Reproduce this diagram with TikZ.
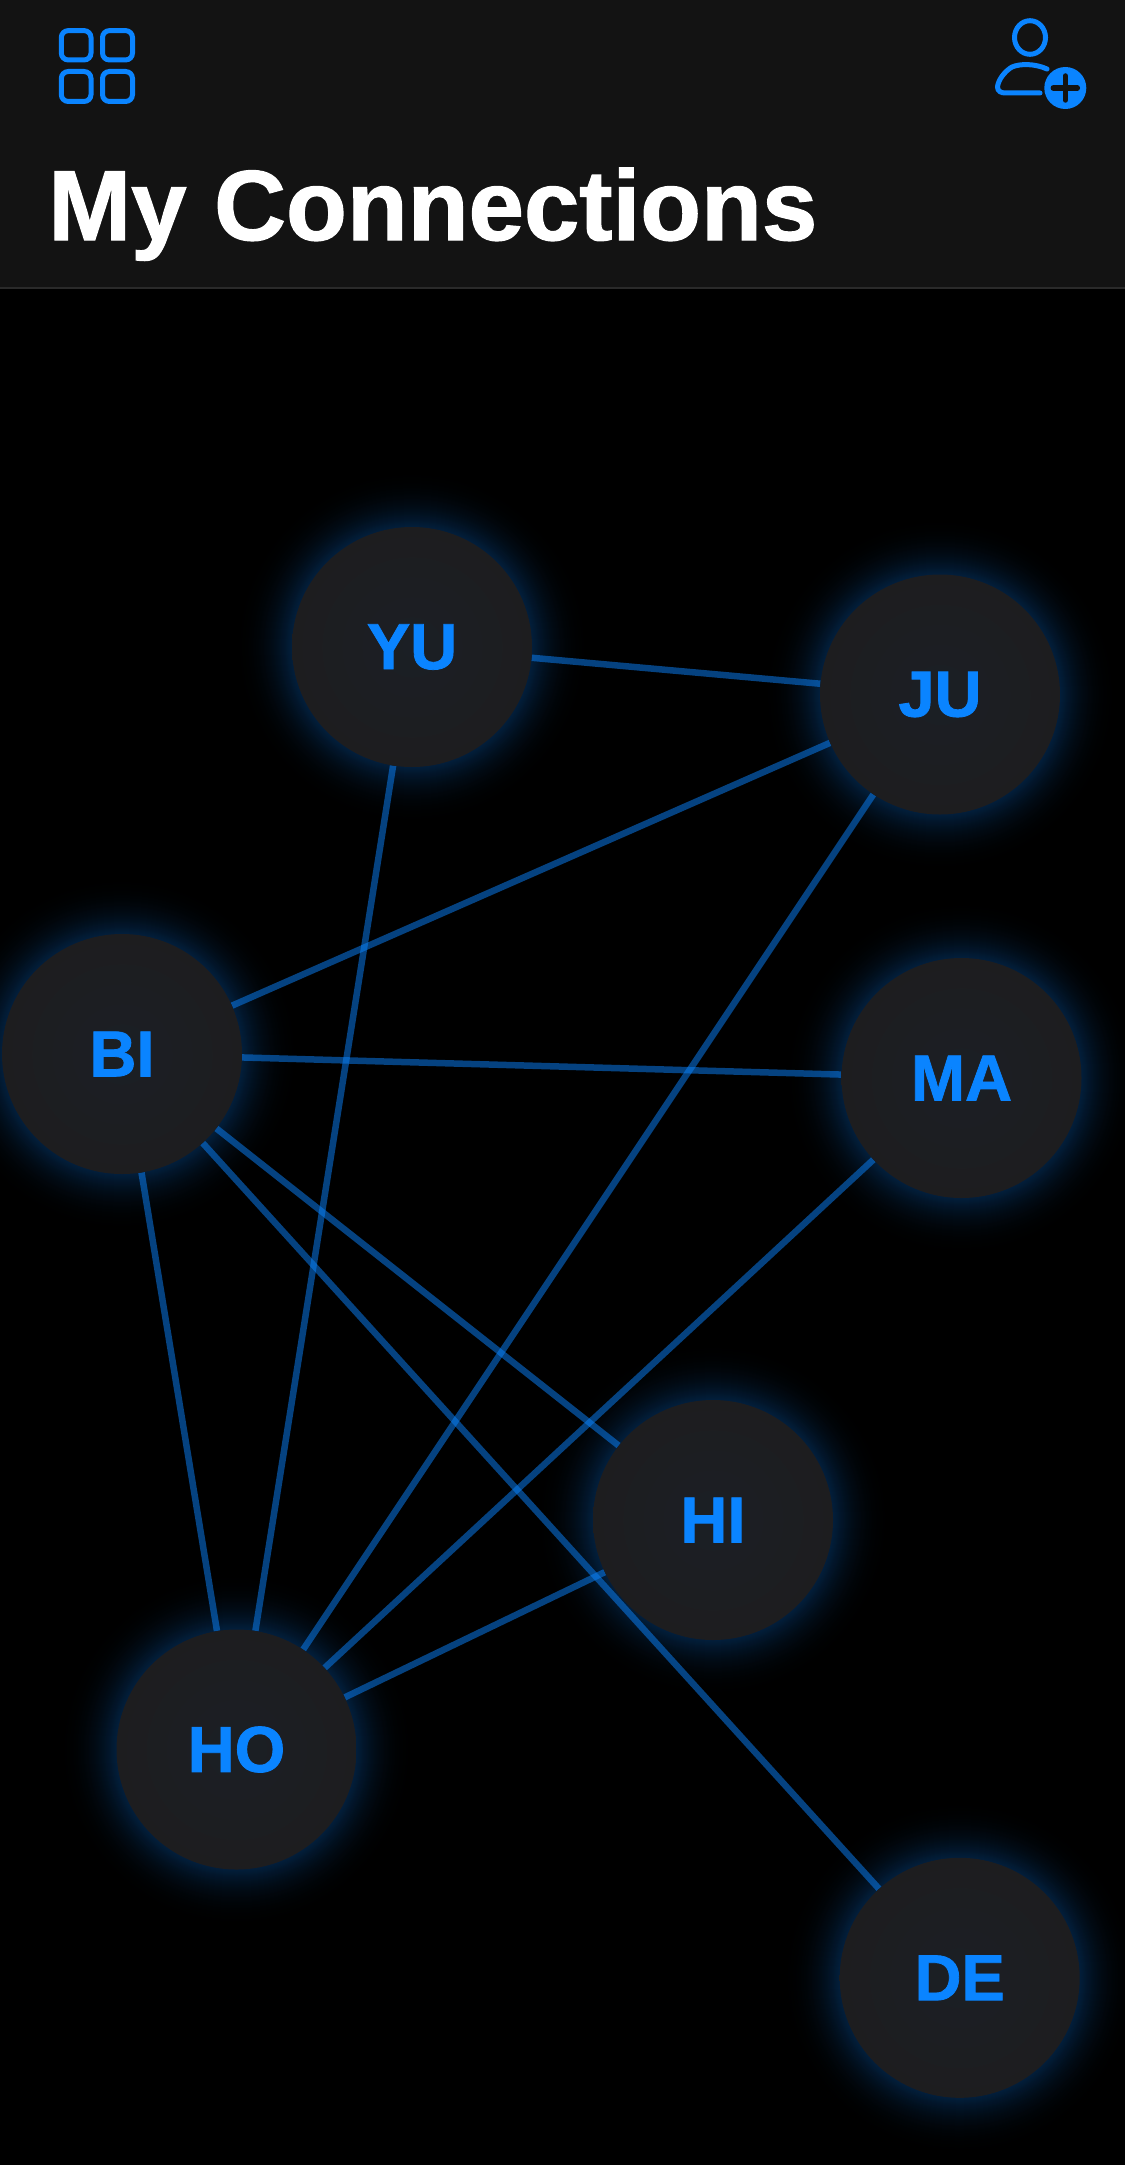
\documentclass[tikz,border=0pt]{standalone}
\usepackage{fontspec}
\setmainfont{Liberation Sans}[BoldFeatures={FakeBold=1.2}]
\pgfdeclarelayer{glowlayer}
\pgfdeclarelayer{edgelayer}
\pgfsetlayers{glowlayer,edgelayer,main}
\definecolor{hdr}{HTML}{131313}
\definecolor{hline}{HTML}{2A2A2A}
\definecolor{accent}{HTML}{0A84FF}
\definecolor{disco}{HTML}{1D1D1F}
\definecolor{disci}{HTML}{1B1F25}
\tikzset{
  person/.style={circle,minimum size=240pt,inner sep=0pt,
    inner color=disci,outer color=disco,text=accent,
    font=\fontsize{65}{70}\selectfont\bfseries},
  edgeline/.style={draw=accent,draw opacity=0.5,line width=6.5pt},
  iconline/.style={draw=accent,line width=5pt},
  gridcell/.style={iconline,rounded corners=7pt},
  title/.style={text=white,anchor=base west,inner sep=0pt,
    font=\fontsize{99.6}{110}\selectfont\bfseries}
}
\newcommand{\glowat}[1]{%
  \foreach \i in {60,59,...,1}{
    \pgfmathsetmacro{\mixv}{24*(1-\i/60)^2.4}
    \fill[accent!\mixv!black] (#1) circle ({120pt+\i*1pt});
  }
}
\begin{document}
\begin{tikzpicture}[x=1pt,y=1pt]
\useasboundingbox (0,0) rectangle (1124.6,-2165);
\begin{pgfonlayer}{glowlayer}
\fill[black] (-5,5) rectangle (1130,-2170);
\end{pgfonlayer}
\node[person] (yu) at (412,-647) {YU};
\node[person] (ju) at (940,-694.5) {JU};
\node[person] (bi) at (122,-1054) {BI};
\node[person] (ma) at (961.5,-1078) {MA};
\node[person] (hi) at (713,-1520) {HI};
\node[person] (ho) at (236.5,-1749.5) {HO};
\node[person] (de) at (959.7,-1977.8) {DE};
\begin{pgfonlayer}{glowlayer}
\glowat{yu}\glowat{ju}\glowat{bi}\glowat{ma}\glowat{hi}\glowat{ho}\glowat{de}
\end{pgfonlayer}
\begin{pgfonlayer}{edgelayer}
\draw[edgeline] (yu) -- (ju);
\draw[edgeline] (yu) -- (ho);
\draw[edgeline] (ju) -- (bi);
\draw[edgeline] (ju) -- (ho);
\draw[edgeline] (bi) -- (ma);
\draw[edgeline] (bi) -- (hi);
\draw[edgeline] (bi) -- (de);
\draw[edgeline] (bi) -- (ho);
\draw[edgeline] (ma) -- (ho);
\draw[edgeline] (hi) -- (ho);
\end{pgfonlayer}
\fill[hdr] (-5,5) rectangle (1130,-288);
\fill[hline] (-5,-287.2) rectangle (1130,-288.8);
% grid icon
\draw[gridcell] (61.3,-30.6) rectangle (91,-60);
\draw[gridcell] (102.5,-30.6) rectangle (132.5,-60);
\draw[gridcell] (61.3,-71.5) rectangle (91,-101.5);
\draw[gridcell] (102.5,-71.5) rectangle (132.5,-101.5);
% person icon
\draw[iconline] (1030,-37.5) ellipse (15.5 and 16.8);
\draw[iconline,line cap=round] (1047,-69) .. controls (1035,-63.5) and (1020,-63.5) .. (1012,-67) .. controls (1005,-71) and (998,-80) .. (997.5,-87) .. controls (997.5,-91) and (1001,-93) .. (1005,-93) -- (1040,-93);
\fill[accent] (1065.3,-88) circle (21);
\draw[hdr,line width=5.5pt,line cap=round] (1053.3,-88) -- (1077.3,-88);
\draw[hdr,line width=5.5pt,line cap=round] (1065.3,-76) -- (1065.3,-100);
\node[title] (t) at (48,-240) {My Connections};
\end{tikzpicture}
\end{document}
